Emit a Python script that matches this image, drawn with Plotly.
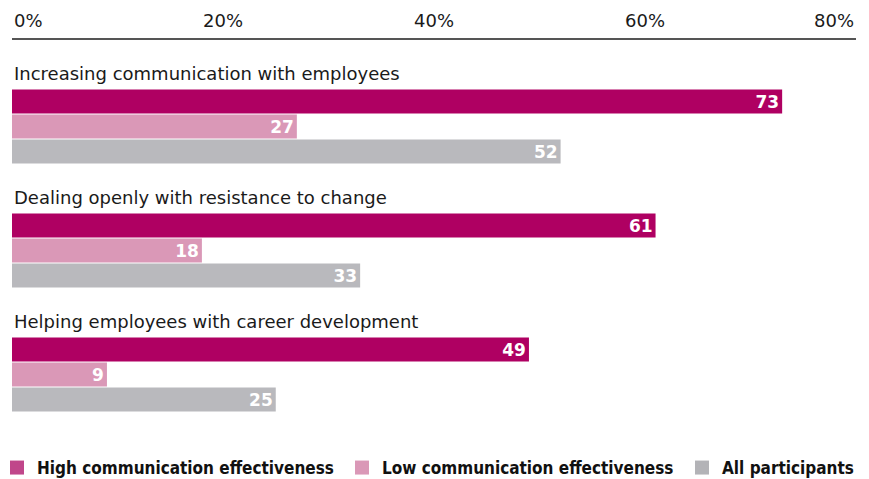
import plotly.graph_objects as go

categories = [
    "Increasing communication with employees",
    "Dealing openly with resistance to change",
    "Helping employees with career development",
]
series_names = [
    "High communication effectiveness",
    "Low communication effectiveness",
    "All participants",
]
high_values = [73, 61, 49]
low_values = [27, 18, 9]
all_values = [52, 33, 25]
tick_values = [0, 20, 40, 60, 80]
tick_labels = ["0%", "20%", "40%", "60%", "80%"]

colors = ["#AF0062", "#DA98B7", "#B9B9BD"]
legend_colors = ["#C0468A", "#DA98B7", "#B3B3B7"]
series_values = [high_values, low_values, all_values]
legend_ids = ["legend", "legend2", "legend3"]
legend_left_px = [-3, 342, 682]

# vertical layout in pixel-like units (y axis reversed, 0 = top of plot area)
GROUP_STEP = 124
BAR_STEP = 25
FIRST_CENTER = 61.5
BAR_WIDTH = 24
PLOT_LEFT = 12
PLOT_WIDTH = 869 - 12 - 13

fig = go.Figure()
for s, (name, vals, col) in enumerate(zip(series_names, series_values, colors)):
    ys = [FIRST_CENTER + GROUP_STEP * g + BAR_STEP * s for g in range(len(categories))]
    fig.add_trace(go.Bar(
        x=vals, y=ys, orientation="h", name=name,
        marker=dict(color=col, line=dict(width=0)),
        width=BAR_WIDTH,
        text=[str(v) for v in vals],
        textposition="inside", insidetextanchor="end", textangle=0,
        textfont=dict(family="DejaVu Sans", size=17, color="white", weight="bold"),
        constraintext="none",
        showlegend=False,
        hoverinfo="skip",
    ))

# legend entries drawn as square markers
for s, name in enumerate(series_names):
    fig.add_trace(go.Scatter(
        x=[None], y=[None], mode="markers", name=name,
        marker=dict(symbol="square", size=14, color=legend_colors[s], line=dict(width=0)),
        legend=legend_ids[s], hoverinfo="skip",
    ))

# category headings above each group
for g, cat in enumerate(categories):
    fig.add_annotation(
        x=0, y=FIRST_CENTER + GROUP_STEP * g - 28, xref="x", yref="y",
        text=cat, showarrow=False, xanchor="left", yanchor="middle",
        font=dict(family="DejaVu Sans", size=18, color="#1a1a1a"),
    )

# percentage tick labels above the axis line
for i, (tv, tl) in enumerate(zip(tick_values, tick_labels)):
    anchor = "left" if i == 0 else ("right" if i == len(tick_values) - 1 else "center")
    fig.add_annotation(
        x=tv, y=1, xref="x", yref="paper", yshift=20,
        text=tl, showarrow=False, xanchor=anchor, yanchor="middle",
        font=dict(family="DejaVu Sans", size=18, color="#1a1a1a"),
    )

legend_font = dict(family="DejaVu Sans Condensed", size=17, color="#111", weight="bold")
legend_layout = {}
for lid, left in zip(legend_ids, legend_left_px):
    legend_layout[lid] = dict(
        orientation="h", x=(left - PLOT_LEFT) / PLOT_WIDTH, xanchor="left",
        y=-0.025, yanchor="top", font=legend_font,
        itemclick=False, itemdoubleclick=False, bgcolor="rgba(0,0,0,0)",
    )

fig.update_layout(
    width=869, height=479,
    margin=dict(l=12, r=13, t=40, b=39, autoexpand=False),
    paper_bgcolor="white", plot_bgcolor="white",
    barmode="overlay",
    showlegend=True,
    xaxis=dict(range=[0, 80], showgrid=False, zeroline=False, showticklabels=False,
               showline=True, linecolor="#555", linewidth=2, side="top", ticks="",
               tickvals=tick_values, fixedrange=True),
    yaxis=dict(range=[400, 0], showgrid=False, zeroline=False, showticklabels=False,
               showline=False, ticks="", fixedrange=True),
    **legend_layout,
)

fig.write_html("out.html")
